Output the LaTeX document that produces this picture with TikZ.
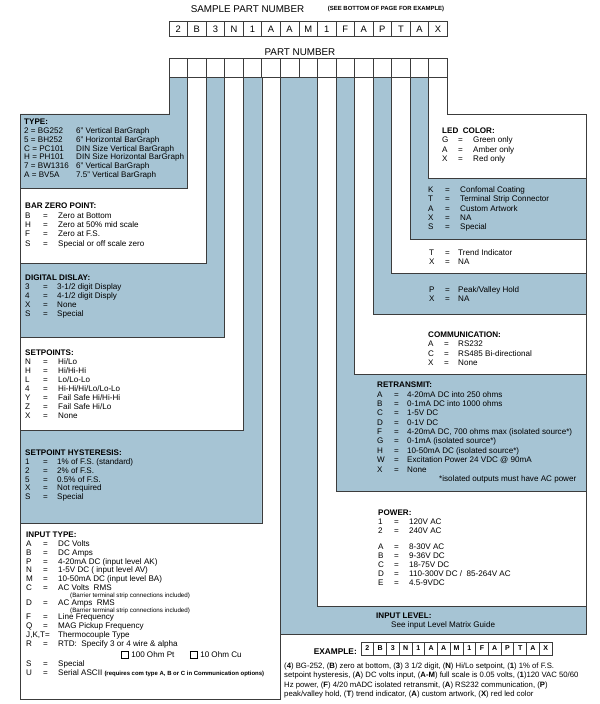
\documentclass[tikz,border=0pt]{standalone}
\usepackage{fontspec}
\setmainfont{Liberation Sans}
\usetikzlibrary{positioning}

\definecolor{barblue}{RGB}{166,196,212}
\definecolor{edgegray}{RGB}{60,60,60}

\newlength\pxu
\setlength\pxu{0.03cm}
\newcommand\chk{\raisebox{-0.3pt}{\framebox(6,6){}}}
\newcommand\hd[1]{\multicolumn{3}{@{}l@{}}{\textbf{#1}}}
\newcommand\spanrow[1]{\multicolumn{3}{@{}l@{}}{#1}}
\newenvironment{optlist}[2]{\begin{tabular}[t]{@{}p{#1\pxu}@{}p{#2\pxu}@{}l@{}}}{\end{tabular}}

\begin{document}
\begin{tikzpicture}[
    x=0.03cm, y=-0.03cm,
    region/.style={draw=edgegray, line width=0.5pt},
    bluereg/.style={region, fill=barblue},
    whitereg/.style={region, fill=white},
    sampbox/.style={draw=edgegray, line width=0.6pt, fill=white, inner sep=0pt, outer sep=0pt, minimum width=0.5565cm, minimum height=0.45cm, font=\fontsize{8}{9}\selectfont},
    partbox/.style={sampbox, minimum height=0.57cm},
    exbox/.style={sampbox, minimum width=0.382cm, minimum height=0.39cm, font=\fontsize{6}{7}\selectfont\bfseries},
    listtext/.style={inner sep=0pt, anchor=base west, font=\fontsize{6.9}{7.65}\selectfont},
    headtext/.style={inner sep=0pt, font=\fontsize{8.4}{9}\selectfont}
]
\useasboundingbox (0,0) rectangle (600,704);

% Titles
\node[headtext] (sampletitle) at (247.5,9) {SAMPLE PART NUMBER};
\node[inner sep=0pt, font=\fontsize{5.1}{5.5}\selectfont\bfseries] (seenote) at (386,8.5) {(SEE BOTTOM OF PAGE FOR EXAMPLE)};
\node[headtext] (parttitle) at (300,52) {PART NUMBER};

% Left side fields (L-shaped strips)
\draw[bluereg]  (169,77)   -- (187.6,77) -- (187.6,188) -- (20,188) -- (20,114) -- (169,114) -- cycle;
\draw[whitereg] (187.6,77) -- (206.1,77) -- (206.1,263) -- (20,263) -- (20,188) -- (187.6,188) -- cycle;
\draw[bluereg]  (206.1,77) -- (224.7,77) -- (224.7,337) -- (20,337) -- (20,263) -- (206.1,263) -- cycle;
\draw[whitereg] (224.7,77) -- (243.2,77) -- (243.2,430) -- (20,430) -- (20,337) -- (224.7,337) -- cycle;
\draw[bluereg]  (243.2,77) -- (261.8,77) -- (261.8,523) -- (20,523) -- (20,430) -- (243.2,430) -- cycle;
\draw[whitereg] (261.8,77) -- (280.3,77) -- (280.3,699) -- (20,699) -- (20,523) -- (261.8,523) -- cycle;

% Right side fields
\draw[bluereg]  (280.3,77) -- (317.4,77) -- (317.4,606) -- (586,606) -- (586,634) -- (280.3,634) -- cycle;
\draw[whitereg] (317.4,77) -- (336,77)   -- (336,491)   -- (586,491) -- (586,606) -- (317.4,606) -- cycle;
\draw[bluereg]  (336,77)   -- (354.5,77) -- (354.5,374) -- (586,374) -- (586,491) -- (336,491) -- cycle;
\draw[whitereg] (354.5,77) -- (373.1,77) -- (373.1,314) -- (586,314) -- (586,374) -- (354.5,374) -- cycle;
\draw[bluereg]  (373.1,77) -- (391.6,77) -- (391.6,273) -- (586,273) -- (586,314) -- (373.1,314) -- cycle;
\draw[whitereg] (391.6,77) -- (410.2,77) -- (410.2,239) -- (586,239) -- (586,273) -- (391.6,273) -- cycle;
\draw[bluereg]  (410.2,77) -- (428.7,77) -- (428.7,178) -- (586,178) -- (586,239) -- (410.2,239) -- cycle;
\draw[whitereg] (428.7,77) -- (447.3,77) -- (447.3,114) -- (586,114) -- (586,178) -- (428.7,178) -- cycle;

% Sample and blank part number boxes
\foreach \ch [count=\i from 0] in {2,B,3,N,1,A,A,M,1,F,A,P,T,A,X} {
  \node[sampbox] (s\i) at ({178.3+18.55*\i},29.2) {\ch};
  \node[partbox] (p\i) at ({178.3+18.55*\i},67.8) {};
}

% Left side option lists
\node[listtext, font=\fontsize{6.9}{7.5}\selectfont] (typelist) at (24,124.7) {\begin{optlist}{52}{0}
\hd{TYPE:}\\
2 = BG252 && 6" Vertical BarGraph\\
5 = BH252 && 6" Horizontal BarGraph\\
C = PC101 && DIN Size Vertical BarGraph\\
H = PH101 && DIN Size Horizontal BarGraph\\
7 = BW1316 && 6" Vertical BarGraph\\
A = BV5A && 7.5" Vertical BarGraph
\end{optlist}};

\node[listtext, font=\fontsize{6.9}{8}\selectfont] (zerolist) at (25,208.7) {\begin{optlist}{18}{15}
\hd{BAR ZERO POINT:}\\
B & = & Zero at Bottom\\
H & = & Zero at 50\% mid scale\\
F & = & Zero at F.S.\\
S & = & Special or off scale zero
\end{optlist}};

\node[listtext] (digitlist) at (25,280.7) {\begin{optlist}{18}{14}
\hd{DIGITAL DISLAY:}\\
3 & = & 3-1/2 digit Display\\
4 & = & 4-1/2 digit Disply\\
X & = & None\\
S & = & Special
\end{optlist}};

\node[listtext] (setlist) at (25,355.7) {\begin{optlist}{18}{15}
\hd{SETPOINTS:}\\
N & = & Hi/Lo\\
H & = & Hi/Hi-Hi\\
L & = & Lo/Lo-Lo\\
4 & = & Hi-Hi/Hi/Lo/Lo-Lo\\
Y & = & Fail Safe Hi/Hi-Hi\\
Z & = & Fail Safe Hi/Lo\\
X & = & None
\end{optlist}};

\node[listtext, font=\fontsize{6.9}{7.5}\selectfont] (hystlist) at (25,455.7) {\begin{optlist}{18}{14}
\hd{SETPOINT HYSTERESIS:}\\
1 & = & 1\% of F.S. (standard)\\
2 & = & 2\% of F.S.\\
5 & = & 0.5\% of F.S.\\
X & = & Not required\\
S & = & Special
\end{optlist}};

\node[listtext, font=\fontsize{6.9}{7.5}\selectfont] (inputlist) at (26,537.7) {\begin{optlist}{17}{15}
\hd{INPUT TYPE:}\\
A & = & DC Volts\\
B & = & DC Amps\\
P & = & 4-20mA DC (input level AK)\\
N & = & 1-5V DC ( input level AV)\\
M & = & 10-50mA DC (input level BA)\\
C & = & AC Volts\ \ RMS\\[-1.6pt]
\spanrow{\hspace*{44\pxu}\fontsize{5.3}{5.5}\selectfont(Barrier terminal strip connections included)}\\[-0.8pt]
D & = & AC Amps\ \ RMS\\[-1.6pt]
\spanrow{\hspace*{44\pxu}\fontsize{5.3}{5.5}\selectfont(Barrier terminal strip connections included)}\\[-0.8pt]
F & = & Line Frequency\\
Q & = & MAG Pickup Frequency\\
\multicolumn{2}{@{}l@{}}{J,K,T=} & Thermocouple Type\\
R & = & RTD:\ \ Specify 3 or 4 wire \& alpha\\[1.9pt]
\spanrow{\hspace*{95\pxu}\makebox[69\pxu][l]{\chk\hspace{3\pxu}100 Ohm Pt}\chk\hspace{3\pxu}10 Ohm Cu}\\
S & = & Special\\
U & = & Serial ASCII {\fontsize{5.1}{5.5}\selectfont\bfseries (requires com type A, B or C in Communication options)}
\end{optlist}};

% Right side option lists
\node[listtext, font=\fontsize{6.9}{7.9}\selectfont] (ledlist) at (442,133.7) {\begin{optlist}{16}{15}
\hd{LED\ \ COLOR:}\\
G & = & Green only\\
A & = & Amber only\\
X & = & Red only
\end{optlist}};

\node[listtext, font=\fontsize{6.9}{7.9}\selectfont] (optionlist) at (428,192.7) {\begin{optlist}{17}{15}
K & = & Confomal Coating\\
T & = & Terminal Strip Connector\\
A & = & Custom Artwork\\
X & = & NA\\
S & = & Special
\end{optlist}};

\node[listtext] (trendlist) at (429,255.7) {\begin{optlist}{16}{13}
T & = & Trend Indicator\\
X & = & NA
\end{optlist}};

\node[listtext] (peaklist) at (429,292.7) {\begin{optlist}{16}{13}
P & = & Peak/Valley Hold\\
X & = & NA
\end{optlist}};

\node[listtext, font=\fontsize{6.9}{7.9}\selectfont] (commlist) at (428,337.7) {\begin{optlist}{16}{14}
\hd{COMMUNICATION:}\\
A & = & RS232\\
C & = & RS485 Bi-directional\\
X & = & None
\end{optlist}};

\node[listtext, font=\fontsize{6.9}{8}\selectfont] (retranslist) at (377,387.7) {\begin{optlist}{17}{13}
\hd{RETRANSMIT:}\\
A & = & 4-20mA DC into 250 ohms\\
B & = & 0-1mA DC into 1000 ohms\\
C & = & 1-5V DC\\
D & = & 0-1V DC\\
F & = & 4-20mA DC, 700 ohms max (isolated source*)\\
G & = & 0-1mA (isolated source*)\\
H & = & 10-50mA DC (isolated source*)\\
W & = & Excitation Power 24 VDC @ 90mA\\
X & = & None\\
\spanrow{\hspace*{62\pxu}*isolated outputs must have AC power}
\end{optlist}};

\node[listtext] (powerlist) at (378,515.7) {\begin{optlist}{16}{15}
\hd{POWER:}\\
1 & = & 120V AC\\
2 & = & 240V AC\\[6pt]
A & = & 8-30V AC\\
B & = & 9-36V DC\\
C & = & 18-75V DC\\
D & = & 110-300V DC /\ \ 85-264V AC\\
E & = & 4.5-9VDC
\end{optlist}};

\node[listtext] (levellist) at (376,618.7) {\begin{optlist}{16}{15}
\hd{INPUT LEVEL:}\\
\spanrow{\hspace*{15\pxu}See input Level Matrix Guide}
\end{optlist}};

% Example
\node[inner sep=0pt, anchor=base east, font=\fontsize{7.1}{8}\selectfont\bfseries] (exlabel) at (357,654.4) {EXAMPLE:};
\foreach \ch [count=\i from 0] in {2,B,3,N,1,A,A,M,1,F,A,P,T,A,X} {
  \node[exbox] (e\i) at ({367.4+12.73*\i},648.5) {\ch};
}
\node[listtext, font=\fontsize{6.6}{7.9}\selectfont] (exampletext) at (284,668.5) {\begin{tabular}[t]{@{}l@{}}
(\textbf{4}) BG-252, (\textbf{B}) zero at bottom, (\textbf{3}) 3 1/2 digit, (\textbf{N}) Hi/Lo setpoint, (\textbf{1}) 1\% of F.S.\\
setpoint hysteresis, (\textbf{A}) DC volts input, (\textbf{A-M}) full scale is 0.05 volts, (\textbf{1})120 VAC 50/60\\
Hz power, (\textbf{F}) 4/20 mADC isolated retransmit, (\textbf{A}) RS232 communication, (\textbf{P})\\
peak/valley hold, (\textbf{T}) trend indicator, (\textbf{A}) custom artwork, (\textbf{X}) red led color
\end{tabular}};

\end{tikzpicture}
\end{document}
